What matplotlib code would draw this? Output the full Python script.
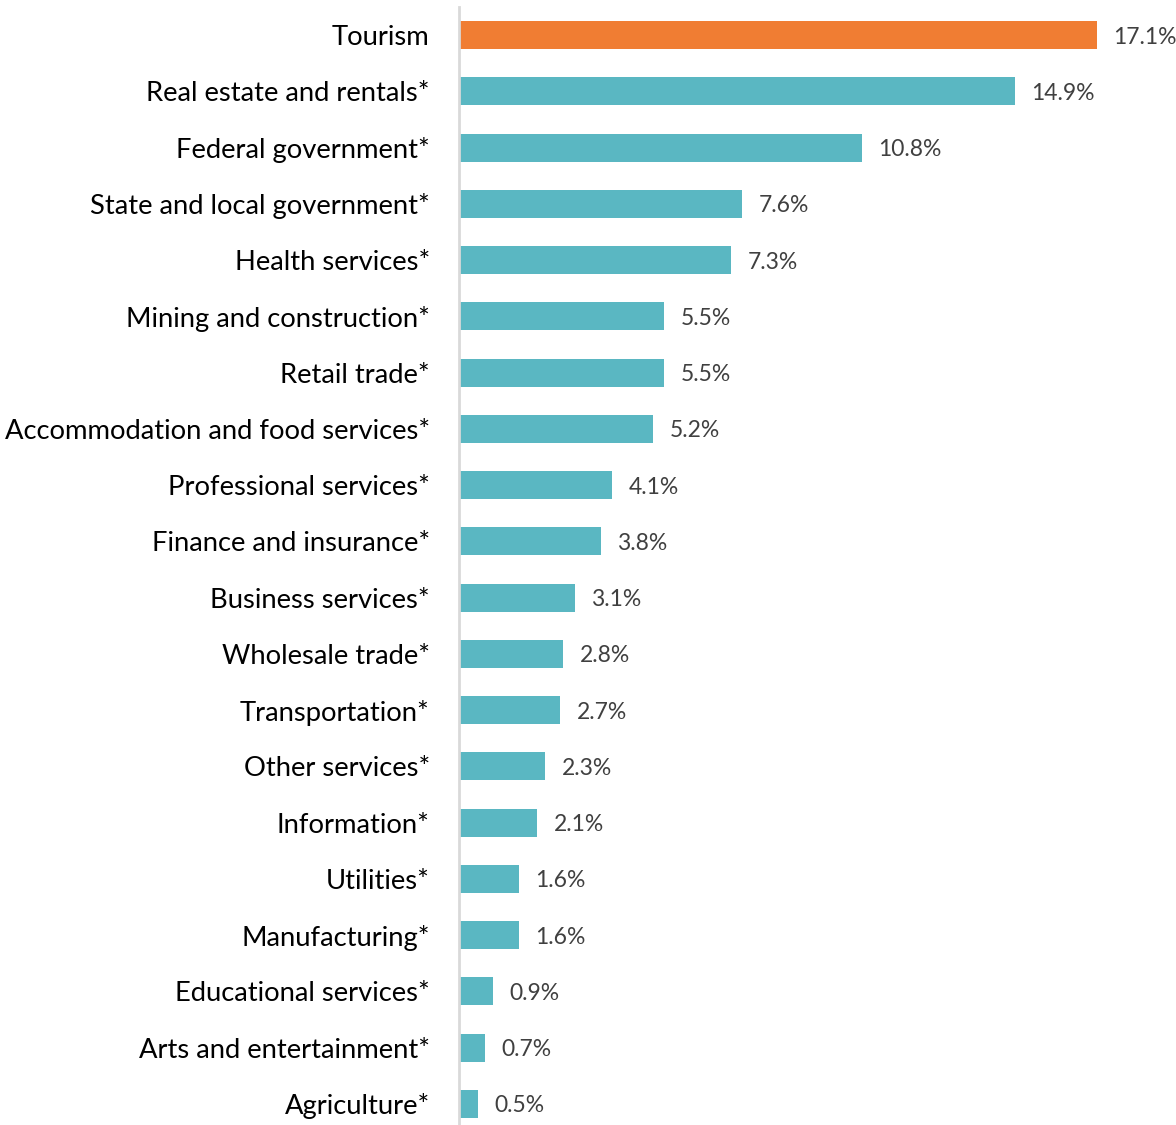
import matplotlib
matplotlib.use("Agg")
from matplotlib import pyplot as plt

categories = ['Tourism', 'Real estate and rentals*', 'Federal government*',
              'State and local government*', 'Health services*',
              'Mining and construction*', 'Retail trade*',
              'Accommodation and food services*', 'Professional services*',
              'Finance and insurance*', 'Business services*', 'Wholesale trade*',
              'Transportation*', 'Other services*', 'Information*', 'Utilities*',
              'Manufacturing*', 'Educational services*', 'Arts and entertainment*',
              'Agriculture*']
values = [17.1, 14.9, 10.8, 7.6, 7.3, 5.5, 5.5, 5.2, 4.1, 3.8, 3.1, 2.8, 2.7,
          2.3, 2.1, 1.6, 1.6, 0.9, 0.7, 0.5]

plt.rcParams['font.family'] = ['Lato', 'DejaVu Sans']

fig = plt.figure(figsize=(11.76, 11.25), dpi=100)
W, H = 1176, 1125
ax = fig.add_axes([459 / W, -7 / H, (W - 459) / W, (1132 - 7) / H])

colors = ['#F07D33'] + ['#5AB7C2'] * (len(values) - 1)
ypos = list(range(len(values)))
ax.barh(ypos, values, height=0.5, color=colors)
ax.set_ylim(len(values) - 0.5, -0.5)
ax.set_xlim(0, (W - 459) / 37.3)

ax.set_yticks(ypos)
ax.set_yticklabels(categories, fontsize=19.7, color='black')
ax.tick_params(axis='y', length=0, pad=21)
ax.set_xticks([])
for s in ['top', 'right', 'bottom']:
    ax.spines[s].set_visible(False)
ax.spines['left'].set_color('#D9D9D9')
ax.spines['left'].set_linewidth(2)

for y, v in zip(ypos, values):
    ax.annotate(f'{v}%', (v, y), xytext=(12, 0), textcoords='offset points',
                va='center_baseline', ha='left', fontsize=16.5, color='#404040')

plt.savefig('out.png', dpi=100)
